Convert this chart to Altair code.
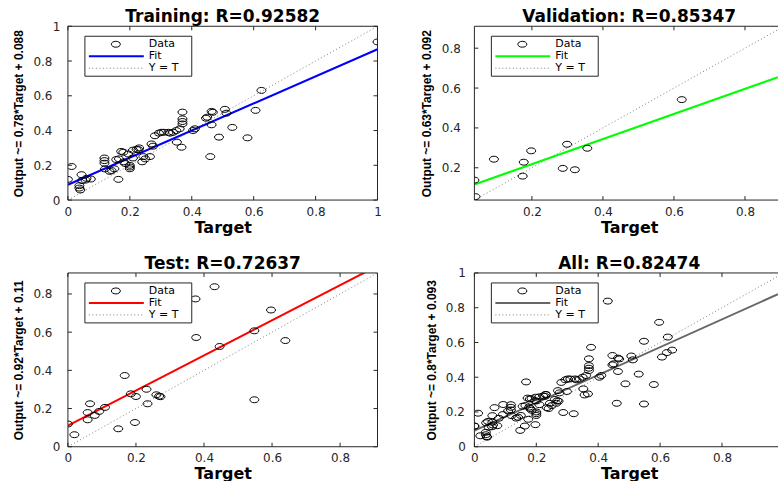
import altair as alt
import pandas as pd

# ---------------- data ----------------
train_t = [1.0, 0.625, 0.606, 0.58, 0.531, 0.488, 0.46, 0.507, 0.512, 0.464,
           0.468, 0.45, 0.446, 0.464, 0.41, 0.404, 0.37, 0.37, 0.37, 0.37,
           0.361, 0.35, 0.34, 0.33, 0.352, 0.367, 0.302, 0.325, 0.281, 0.294,
           0.27, 0.265, 0.244, 0.24, 0.21, 0.21, 0.222, 0.228, 0.2, 0.2,
           0.18, 0.185, 0.179, 0.165, 0.163, 0.15, 0.141, 0.12, 0.118, 0.118,
           0.118, 0.074, 0.057, 0.037, 0.037, 0.04, 0.046, 0.044, 0.0, 0.012,
           0.172, 0.195, 0.156, 0.23, 0.25, 0.06, 0.275, 0.31, 0.2, 0.135]
train_o = [0.91, 0.631, 0.516, 0.358, 0.418, 0.362, 0.25, 0.522, 0.50, 0.51,
           0.505, 0.477, 0.471, 0.433, 0.41, 0.40, 0.506, 0.467, 0.452, 0.438,
           0.41, 0.40, 0.39, 0.385, 0.333, 0.304, 0.39, 0.39, 0.37, 0.385,
           0.323, 0.25, 0.25, 0.22, 0.242, 0.287, 0.292, 0.29, 0.2, 0.18,
           0.22, 0.21, 0.275, 0.237, 0.119, 0.18, 0.17, 0.179, 0.242, 0.227,
           0.212, 0.121, 0.115, 0.083, 0.069, 0.058, 0.112, 0.146, 0.119, 0.193,
           0.28, 0.265, 0.233, 0.30, 0.237, 0.125, 0.31, 0.39, 0.19, 0.165]

val_t = [0.038, 0.041, 0.093, 0.177, 0.174, 0.198, 0.287, 0.299, 0.321, 0.356, 0.622]
val_o = [0.138, 0.055, 0.243, 0.228, 0.158, 0.285, 0.197, 0.318, 0.19, 0.298, 0.542]

test_t = [0.431, 0.375, 0.597, 0.377, 0.548, 0.446, 0.639, 0.548, 0.167, 0.185,
          0.2, 0.231, 0.234, 0.26, 0.268, 0.272, 0.065, 0.058, 0.058, 0.079,
          0.092, 0.109, 0.0, 0.019, 0.148, 0.197]
test_o = [0.838, 0.774, 0.716, 0.572, 0.607, 0.525, 0.556, 0.246, 0.373, 0.277,
          0.263, 0.301, 0.225, 0.272, 0.265, 0.262, 0.225, 0.179, 0.141, 0.164,
          0.185, 0.206, 0.119, 0.063, 0.094, 0.127]

titles = ["Training: R=0.92582", "Validation: R=0.85347",
          "Test: R=0.72637", "All: R=0.82474"]
ylabels = ["Output ~= 0.78*Target + 0.088", "Output ~= 0.63*Target + 0.092",
           "Output ~= 0.92*Target + 0.11", "Output ~= 0.8*Target + 0.093"]
slopes = [0.78, 0.63, 0.92, 0.8]
intercepts = [0.088, 0.092, 0.11, 0.093]
fit_colors = ["#0000ff", "#00ff00", "#ff0000", "#666666"]
# axis limits; the right-hand panels run past the picture's right edge,
# so only the visible part of their x range is drawn
x_limits = [(0.0, 1.0), (0.038, 0.893), (0.0, 0.91), (0.0, 0.981)]
y_limits = [(0.0, 1.0), (0.038, 0.91), (0.0, 0.91), (0.0, 1.0)]
x_ticks = [[0, 0.2, 0.4, 0.6, 0.8, 1], [0.2, 0.4, 0.6, 0.8],
           [0, 0.2, 0.4, 0.6, 0.8], [0, 0.2, 0.4, 0.6, 0.8]]
y_ticks = [[0, 0.2, 0.4, 0.6, 0.8, 1], [0.2, 0.4, 0.6, 0.8],
           [0, 0.2, 0.4, 0.6, 0.8], [0, 0.2, 0.4, 0.6, 0.8, 1]]
legend_labels = ["Data", "Fit", "Y = T"]

# ---------------- style ----------------
W, H = 310, 174          # full axes box
W_CUT = 304              # visible width of the right-hand axes
widths = [W, W_CUT, W, W_CUT]
right_frame = [True, False, True, False]
FONT = "DejaVu Sans"
AXC = "#262626"
ELLIPSE = "M -1 0 A 1 0.66 0 1 0 1 0 A 1 0.66 0 1 0 -1 0 Z"
# (label padding for integer labels, for decimal labels, title padding)
axis_gaps = [(8, 16, 7), (14, 14, 8), (8, 16, 7), (9, 10, 7)]


def panel(t, o, title, ylab, m, b, color, xlim, ylim, xtv, ytv, gaps, w, rframe):
    pad_int, pad_dec, tpad = gaps
    pts = pd.DataFrame({"Target": t, "Output": o})
    ends = pd.DataFrame({"Target": [xlim[0], xlim[1]]})
    ends["Fit"] = m * ends["Target"] + b
    ends["Ident"] = ends["Target"]
    xdf = pd.DataFrame({"v": xtv})
    ydf = pd.DataFrame({"v": ytv})

    sx = alt.Scale(domain=list(xlim), nice=False, zero=False)
    sy = alt.Scale(domain=list(ylim), nice=False, zero=False)
    xaxis = alt.Axis(title="Target", values=xtv, format=".1~f", ticks=False,
                     domain=False, grid=False, labelFont=FONT, labelFontSize=12,
                     labelColor=AXC, labelPadding=6, labelFlush=False,
                     labelOverlap=False, titleFont=FONT, titleFontSize=16,
                     titleFontWeight="bold", titleColor="black", titlePadding=2,
                     titleX=W / 2, titleAlign="center")
    yaxis = alt.Axis(title=ylab, values=ytv, format=".1~f",
                     ticks=False, domain=False, grid=False, labelFont=FONT,
                     labelFontSize=12, labelColor=AXC,
                     labelPadding={"condition": {"test": "indexof(datum.label, '.') >= 0",
                                                 "value": pad_dec},
                                   "value": pad_int},
                     labelFlush=False, labelOverlap=False, labelBound=False,
                     titleFont="Liberation Sans", titleFontSize=12,
                     titleFontWeight="bold", titleColor="black", titlePadding=tpad)

    ident = alt.Chart(ends).mark_line(color="#808080", strokeDash=[1, 2.5],
                                      strokeWidth=1, clip=True).encode(
        x=alt.X("Target:Q", scale=sx, axis=xaxis),
        y=alt.Y("Ident:Q", scale=sy, axis=yaxis))
    fit = alt.Chart(ends).mark_line(color=color, strokeWidth=2, clip=True).encode(
        x=alt.X("Target:Q", scale=sx, axis=xaxis),
        y=alt.Y("Fit:Q", scale=sy, axis=yaxis))
    dots = alt.Chart(pts).mark_point(shape=ELLIPSE, size=81, filled=False,
                                     color="black", strokeWidth=1, opacity=1,
                                     clip=True).encode(
        x=alt.X("Target:Q", scale=sx, axis=xaxis),
        y=alt.Y("Output:Q", scale=sy, axis=yaxis))

    xt_top = alt.Chart(xdf).mark_rule(color=AXC).encode(
        x=alt.X("v:Q", scale=sx, axis=xaxis), y=alt.value(0), y2=alt.value(4))
    xt_bot = alt.Chart(xdf).mark_rule(color=AXC).encode(
        x=alt.X("v:Q", scale=sx, axis=xaxis), y=alt.value(H - 4), y2=alt.value(H))
    yt_l = alt.Chart(ydf).mark_rule(color=AXC).encode(
        y=alt.Y("v:Q", scale=sy, axis=yaxis), x=alt.value(0), x2=alt.value(4))

    one = alt.Chart(alt.Data(values=[{"k": 0}]))
    frame = [
        one.mark_rule(color=AXC, strokeWidth=1).encode(
            x=alt.value(0), y=alt.value(0), y2=alt.value(H)),
        one.mark_rule(color=AXC, strokeWidth=1).encode(
            x=alt.value(0), x2=alt.value(w), y=alt.value(0)),
        one.mark_rule(color=AXC, strokeWidth=1).encode(
            x=alt.value(0), x2=alt.value(w), y=alt.value(H)),
    ]
    if rframe:
        frame.append(one.mark_rule(color=AXC, strokeWidth=1).encode(
            x=alt.value(w), y=alt.value(0), y2=alt.value(H)))
        frame.append(alt.Chart(ydf).mark_rule(color=AXC).encode(
            y=alt.Y("v:Q", scale=sy, axis=yaxis), x=alt.value(w - 4), x2=alt.value(w)))

    head = one.mark_text(align="center", baseline="alphabetic", font=FONT,
                         fontSize=17, fontWeight="bold", color="black").encode(
        x=alt.value(W / 2), y=alt.value(-4), text=alt.value(title))
    box = one.mark_rect(fill="white", stroke=AXC, strokeWidth=1).encode(
        x=alt.value(17), x2=alt.value(124), y=alt.value(10), y2=alt.value(50))
    lsym = one.mark_point(shape=ELLIPSE, size=81, filled=False, color="black",
                          strokeWidth=1, opacity=1).encode(x=alt.value(48), y=alt.value(18))
    lfit = one.mark_rule(color=color, strokeWidth=2).encode(
        x=alt.value(21), x2=alt.value(76), y=alt.value(30))
    lid = one.mark_rule(color="#808080", strokeDash=[1, 2.5]).encode(
        x=alt.value(21), x2=alt.value(76), y=alt.value(42))
    texts = [one.mark_text(align="left", baseline="middle", font=FONT,
                           fontSize=11, color="black").encode(
        x=alt.value(81), y=alt.value(18 + 12 * i), text=alt.value(lab))
        for i, lab in enumerate(legend_labels)]

    return alt.layer(ident, fit, dots, xt_top, xt_bot, yt_l, *frame, head,
                     box, lsym, lfit, lid, *texts).properties(width=w, height=H)


all_t = train_t + val_t + test_t
all_o = train_o + val_o + test_o
sets = [(train_t, train_o), (val_t, val_o), (test_t, test_o), (all_t, all_o)]

panels = [panel(sets[i][0], sets[i][1], titles[i], ylabels[i], slopes[i],
                intercepts[i], fit_colors[i], x_limits[i], y_limits[i],
                x_ticks[i], y_ticks[i], axis_gaps[i], widths[i], right_frame[i])
          for i in range(4)]

chart = alt.concat(*panels, columns=2, spacing={"row": 73, "column": 97},
                   bounds="flush").properties(
    padding={"left": 12, "top": 8, "right": 0, "bottom": 0},
    background="white"
).configure_view(stroke="transparent", strokeWidth=0, fill="white"
).configure_axis(labelOverlap=False)

chart.save("out.html", embed_options={"renderer": "svg", "actions": False})
